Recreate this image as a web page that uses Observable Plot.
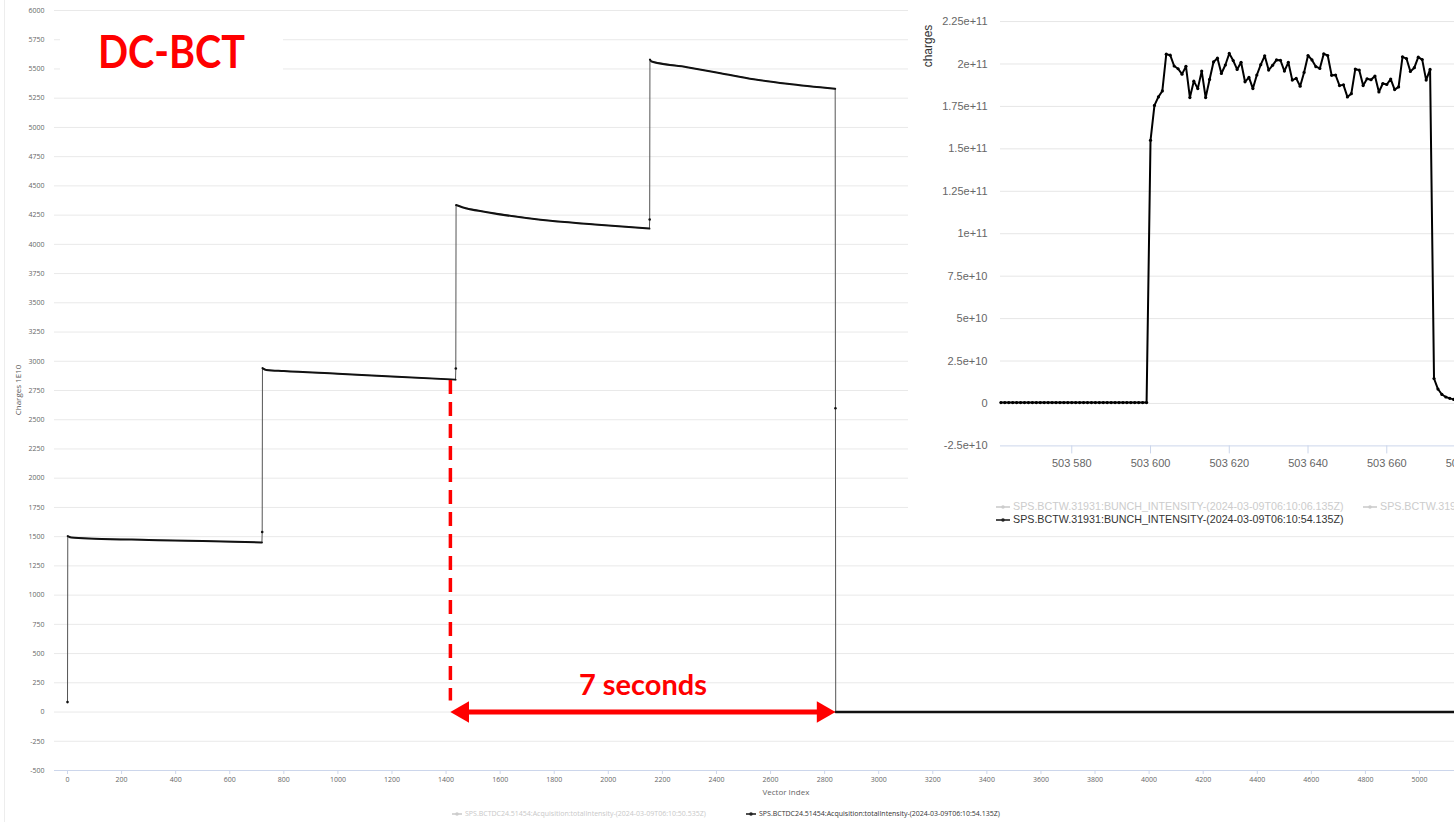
<!DOCTYPE html>
<html>
<head>
<meta charset="utf-8">
<script src="https://cdn.jsdelivr.net/npm/d3@7"></script>
<script src="https://cdn.jsdelivr.net/npm/@observablehq/plot@0.6"></script>
<style>
  html, body { margin: 0; padding: 0; background: #fff; overflow: hidden; }
  #page { position: relative; width: 1454px; height: 822px; overflow: hidden; background: #fff; }
  #main { position: absolute; left: 0; top: 0; }
  .frame-edge { position: absolute; left: 4px; top: 0; width: 1px; height: 822px; background: #ededed; }
  #title { position: absolute; left: 60px; top: 22px; width: 223px; height: 62px; background: #fff; }
  #inset { position: absolute; left: 908px; top: 0; width: 546px; height: 532px; background: #fff; overflow: hidden; }
  #inset svg.bunch-plot { position: absolute; left: 0; top: 0; max-width: none !important; width: 640px !important; height: 480px !important; }
  .legend-item { position: absolute; white-space: nowrap; display: flex; align-items: center; }
  .legend-item svg { display: block; }
  .main-legend { font: 7px "Open Sans", sans-serif; line-height: 9px; }
  .inset-legend { font: 10.7px "Liberation Sans", Arial, sans-serif; line-height: 13px; }
</style>
</head>
<body>
<div id="page">
  <div class="frame-edge"></div>
  <div id="main"></div>
  <div id="title">
    <svg width="223" height="62">
      <text x="38" y="46" textLength="147" lengthAdjust="spacingAndGlyphs"
            font-family="Lato, 'Open Sans', sans-serif" font-weight="bold" font-size="46" fill="#ff0000">DC-BCT</text>
    </svg>
  </div>
  <div id="inset"></div>
</div>
<script>
// ---- DC-BCT total intensity (charges in units of 1E10) vs vector index ----
const dcIndex   = [0, 1, 15, 100, 300, 500, 719, 720, 721, 735, 800, 1000, 1200, 1435, 1436, 1437, 1460, 1552, 1749, 1950, 2152, 2153, 2154, 2160, 2291, 2415, 2538, 2662, 2839, 2840, 2841, 5200];
const dcCharges = [85, 1505, 1492, 1483, 1472, 1462, 1450, 1540, 2942, 2926, 2916, 2893, 2869, 2843, 2938, 4336, 4317, 4275, 4210, 4170, 4135, 4212, 5581, 5564, 5515, 5464, 5412, 5373, 5330, 2598, 0, 0];
const dcPhase   = ["jump", "p1", "p1", "p1", "p1", "p1", "p1", "jump", "p2", "p2", "p2", "p2", "p2", "p2", "jump", "p3", "p3", "p3", "p3", "p3", "p3", "jump", "p4", "p4", "p4", "p4", "p4", "p4", "p4", "jump", "p5", "p5"];
const dcTicksX = [0, 200, 400, 600, 800, 1000, 1200, 1400, 1600, 1800, 2000, 2200, 2400, 2600, 2800, 3000, 3200, 3400, 3600, 3800, 4000, 4200, 4400, 4600, 4800, 5000];
const dcTicksY = [-500, -250, 0, 250, 500, 750, 1000, 1250, 1500, 1750, 2000, 2250, 2500, 2750, 3000, 3250, 3500, 3750, 4000, 4250, 4500, 4750, 5000, 5250, 5500, 5750, 6000];
const dcLegend = [
  {name: "SPS.BCTDC24.51454:Acquisition:totalIntensity-(2024-03-09T06:10:50.535Z)", active: false},
  {name: "SPS.BCTDC24.51454:Acquisition:totalIntensity-(2024-03-09T06:10:54.135Z)", active: true}
];
// extraction interval marked on the trace
const extraction = {from: 1416, to: 2840, dashTop: 2835, dashBottom: 95, label: "7 seconds"};

// ---- BCTW bunch intensity (charges) per slot, first slot 503562 ----
const bunchFirstSlot = 503562;
const bunchCharges1e9 = [
  0.5, 0.5, 0.5, 0.5, 0.5, 0.5, 0.5, 0.5, 0.5, 0.5,
  0.5, 0.5, 0.5, 0.5, 0.5, 0.5, 0.5, 0.5, 0.5, 0.5,
  0.5, 0.5, 0.5, 0.5, 0.5, 0.5, 0.5, 0.5, 0.5, 0.5,
  0.5, 0.5, 0.5, 0.5, 0.5, 0.5, 0.5, 0.5,
  155.0,
  175.6, 180.6, 184.1, 205.8, 205.2, 198.8, 197.2, 194.0, 198.6, 180.2,
  189.9, 185.5, 195.8, 180.2, 190.9, 201.2, 203.4, 194.4, 199.4, 206.2,
  202.0, 196.8, 201.0, 189.5, 192.1, 185.5, 193.5, 199.6, 204.8, 196.4,
  199.2, 202.4, 202.2, 195.8, 201.0, 190.5, 191.5, 186.9, 195.0, 205.0,
  202.4, 198.4, 197.4, 206.0, 205.0, 193.3, 193.5, 187.3, 187.7, 180.6,
  182.5, 197.0, 196.4, 187.3, 191.3, 190.7, 192.9, 183.5, 188.5, 187.9,
  191.1, 184.9, 186.5, 204.2, 203.2, 195.6, 197.8, 204.0, 202.6, 190.5,
  196.8,
  14.7, 8.5, 5.3, 3.8, 3.0, 2.4
];
const bunchTicksY = [-2.5e10, 0, 2.5e10, 5e10, 7.5e10, 1e11, 1.25e11, 1.5e11, 1.75e11, 2e11, 2.25e11];
const bunchTickLabelsY = ["-2.5e+10", "0", "2.5e+10", "5e+10", "7.5e+10", "1e+11", "1.25e+11", "1.5e+11", "1.75e+11", "2e+11", "2.25e+11"];
const bunchTicksX = [503580, 503600, 503620, 503640, 503660, 503680];
const bunchTickLabelsX = ["503 580", "503 600", "503 620", "503 640", "503 660", "503 680"];
const bunchLegend = [
  {name: "SPS.BCTW.31931:BUNCH_INTENSITY-(2024-03-09T06:10:06.135Z)", active: false, left: 88, top: 500},
  {name: "SPS.BCTW.31931:BUNCH_INTENSITY-(2024-03-09T06:10:06.135Z)", active: false, left: 455, top: 500},
  {name: "SPS.BCTW.31931:BUNCH_INTENSITY-(2024-03-09T06:10:54.135Z)", active: true, left: 88, top: 513}
];

const red = "#ff0000";

// rotated axis title drawn straight into a plot's svg
function addRotatedTitle(svg, text, x, y, size, color, family) {
  d3.select(svg).append("text")
    .attr("transform", `translate(${x},${y}) rotate(-90)`)
    .attr("text-anchor", "middle")
    .attr("dy", "0.35em")
    .attr("font-size", size)
    .attr("font-family", family)
    .attr("fill", color)
    .text(text);
}

// ---------- main DC-BCT chart ----------
const dcRows = dcIndex.map((x, i) => ({x, y: dcCharges[i], phase: dcPhase[i]}));
const plateaus = dcRows.filter(d => d.phase !== "jump");
const jumps = dcRows.filter(d => d.phase === "jump");

const main = Plot.plot({
  width: 1454,
  height: 800,
  marginLeft: 54,
  marginRight: 0,
  marginTop: 10,
  marginBottom: 30,
  x: {domain: [-48.1, 5129.4]},
  y: {domain: [-500, 6000]},
  style: {fontFamily: "'Open Sans', sans-serif", fontSize: "7px", color: "#666", background: "transparent", overflow: "visible"},
  marks: [
    Plot.gridY(dcTicksY.filter(v => v > -500), {stroke: "#e9e9e9", strokeOpacity: 1}),
    Plot.ruleY([-500], {stroke: "#ccd6eb"}),
    Plot.axisY(dcTicksY, {tickSize: 0, tickPadding: 10, tickFormat: d => String(d), fill: "#666", label: null}),
    Plot.axisX(dcTicksX, {tickSize: 4, tickPadding: 3, tickFormat: d => String(d), stroke: "#ccd6eb", fill: "#666", label: null}),
    Plot.text(["Vector Index"], {frameAnchor: "bottom-left", dx: 708, dy: 24, fontSize: 8, fill: "#666"}),
    // full trace (thin), then the plateaus on top
    Plot.line(dcRows, {x: "x", y: "y", stroke: "#555", strokeWidth: 1, clip: true}),
    Plot.line(plateaus.filter(d => d.phase !== "p5"), {x: "x", y: "y", z: "phase", stroke: "#111", strokeWidth: 2, curve: "monotone-x", clip: true}),
    Plot.line(plateaus.filter(d => d.phase === "p5"), {x: "x", y: "y", stroke: "#111", strokeWidth: 2.6, clip: true}),
    Plot.dot(jumps, {x: "x", y: "y", r: 1.3, fill: "#111"}),
    // extraction interval annotation
    Plot.ruleX([extraction], {x: "from", y1: "dashTop", y2: "dashBottom", stroke: red, strokeWidth: 3.5, strokeDasharray: "14,8"}),
    Plot.ruleY([extraction], {y: () => 0, x1: "from", x2: "to", insetLeft: 14, insetRight: 14, stroke: red, strokeWidth: 5}),
    Plot.dot([extraction], {x: "from", y: () => 0, symbol: "triangle", r: 8, rotate: -90, dx: 12.4, fill: red, stroke: "none"}),
    Plot.dot([extraction], {x: "to", y: () => 0, symbol: "triangle", r: 8, rotate: 90, dx: -12.4, fill: red, stroke: "none"}),
    Plot.text([extraction], {x: d => (d.from + d.to) / 2, y: () => 0, dy: -26, text: "label", fill: red, fontSize: 29, fontWeight: "bold", fontFamily: "Lato, 'Open Sans', sans-serif"})
  ]
});
addRotatedTitle(main, "Charges 1E10", 18, 390, 8, "#555", "'Open Sans', sans-serif");
document.getElementById("main").append(main);

function legendSymbol(color, w) {
  return `<svg width="${w}" height="8"><line x1="0" x2="${w}" y1="4" y2="4" stroke="${color}" stroke-width="1.6"/><circle cx="${w / 2}" cy="4" r="1.8" fill="${color}"/></svg>`;
}

const page = document.getElementById("page");
dcLegend.forEach((item, i) => {
  const div = document.createElement("div");
  div.className = "legend-item main-legend";
  div.style.left = (i === 0 ? 452 : 746) + "px";
  div.style.top = "809px";
  div.style.color = item.active ? "#333" : "#c8c8c8";
  div.innerHTML = legendSymbol(item.active ? "#222" : "#cccccc", 10) + `<span style="margin-left:3px">${item.name}</span>`;
  page.append(div);
});

// ---------- BCTW bunch intensity chart ----------
const bunchRows = bunchCharges1e9.map((v, i) => ({slot: bunchFirstSlot + i, charges: v * 1e9}));
const pxPerSlot = 3.9375;
const insetWidth = 640, insetLeft = 92;
const slot0 = 503561.9;

const inset = Plot.plot({
  width: insetWidth,
  height: 480,
  marginLeft: insetLeft,
  marginRight: 0,
  marginTop: 0,
  marginBottom: 34.6,
  x: {domain: [slot0, slot0 + (insetWidth - insetLeft) / pxPerSlot]},
  y: {domain: [-2.5e10, 2.374e11]},
  style: {fontFamily: "'Liberation Sans', Arial, sans-serif", fontSize: "11px", color: "#666", background: "transparent"},
  marks: [
    Plot.gridY(bunchTicksY.slice(1), {stroke: "#e6e6e6", strokeOpacity: 1}),
    Plot.ruleY([-2.5e10], {stroke: "#ccd6eb"}),
    Plot.axisY(bunchTicksY, {tickSize: 0, tickPadding: 13, tickFormat: d => bunchTickLabelsY[bunchTicksY.indexOf(d)], fill: "#666", label: null}),
    Plot.axisX(bunchTicksX, {tickSize: 8, tickPadding: 5, tickFormat: d => bunchTickLabelsX[bunchTicksX.indexOf(d)], stroke: "#ccd6eb", fill: "#666", label: null}),
    Plot.line(bunchRows, {x: "slot", y: "charges", stroke: "#000", strokeWidth: 2}),
    Plot.dot(bunchRows, {x: "slot", y: "charges", r: 1.6, fill: "#000"})
  ]
});
inset.classList.add("bunch-plot");
addRotatedTitle(inset, "charges", 20, 46, 12, "#333", "'Liberation Sans', Arial, sans-serif");
const insetBox = document.getElementById("inset");
insetBox.append(inset);

bunchLegend.forEach(item => {
  const div = document.createElement("div");
  div.className = "legend-item inset-legend";
  div.style.left = item.left + "px";
  div.style.top = item.top + "px";
  div.style.color = item.active ? "#333" : "#cccccc";
  div.innerHTML = legendSymbol(item.active ? "#222" : "#cccccc", 14) + `<span style="margin-left:3px">${item.name}</span>`;
  insetBox.append(div);
});
</script>
</body>
</html>
